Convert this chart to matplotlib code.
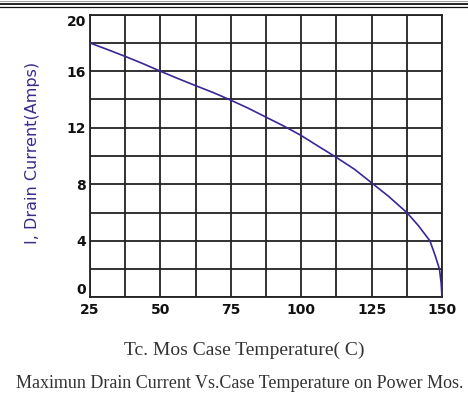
import numpy as np
import matplotlib
matplotlib.use('Agg')
import matplotlib.pyplot as plt
from matplotlib.lines import Line2D

# values
case_temp = [25, 31, 37.5, 44, 50, 56, 62.5, 69, 75, 81, 87.5, 94, 100, 106,
             112.5, 119, 125, 131, 137.5, 141.5, 145.7, 147.5, 149.1, 149.7,
             150]
drain_current = [18, 17.55, 17.05, 16.52, 16, 15.5, 14.98, 14.47, 13.95, 13.4,
                 12.75, 12.1, 11.45, 10.7, 9.9, 9.05, 8.1, 7.15, 6.0, 5.1,
                 4.0, 3.0, 2.0, 1.0, 0]

x_ticks = [25, 50, 75, 100, 125, 150]
y_ticks = [0, 4, 8, 12, 16, 20]

fig = plt.figure(figsize=(4.68, 4.08), dpi=100)
ax = fig.add_axes([90 / 468, 1 - 297.3 / 408, 352 / 468, 282.6 / 408])

# grid every 12.5 deg and every 2 A
for xv in np.arange(25, 150.1, 12.5):
    ax.axvline(xv, color='#222222', lw=1.3, zorder=1)
for yv in np.arange(0, 20.1, 2):
    ax.axhline(yv, color='#222222', lw=1.3, zorder=1)

ax.plot(case_temp, drain_current, color='#3b2596', lw=1.2, zorder=3)

ax.set_xlim(25, 150)
ax.set_ylim(0, 20)
ax.set_xticks(x_ticks)
ax.set_yticks(y_ticks)
ax.set_xticklabels([str(v) for v in x_ticks], fontsize=10, fontweight='bold',
                   family='DejaVu Sans')
ax.set_yticklabels([str(v) for v in y_ticks], fontsize=10, fontweight='bold',
                   family='DejaVu Sans')
ax.tick_params(length=0, colors='#111111')
ax.tick_params(axis='x', pad=4)
ax.tick_params(axis='y', pad=3)
ylabs = ax.get_yticklabels()
ylabs[0].set_va('bottom')
ylabs[-1].set_va('top')
for sp in ax.spines.values():
    sp.set_color('#222222')
    sp.set_linewidth(1.3)

fig.text(33 / 468, 1 - 153 / 408, 'I, Drain Current(Amps)', rotation=90,
         ha='center', va='center', fontsize=11.5, color='#3a2a8a',
         family='DejaVu Sans')

fig.text(244 / 468, 1 - 350 / 408, 'Tc. Mos Case Temperature( C)', ha='center',
         va='center', fontsize=14, family='Liberation Serif', color='#333333')
fig.text(0.513, 1 - 384 / 408,
         'Maximun Drain Current Vs.Case Temperature on Power Mos.',
         ha='center', va='center', fontsize=13, family='Liberation Serif',
         color='#333333')

# double rule across the top
fig.add_artist(Line2D([0, 1], [1 - 0.5 / 408, 1 - 0.5 / 408],
                      color='#888888', lw=0.6))
fig.add_artist(Line2D([0, 1], [1 - 4 / 408, 1 - 4 / 408],
                      color='#111111', lw=1.3))
fig.add_artist(Line2D([0, 1], [1 - 6.8 / 408, 1 - 6.8 / 408],
                      color='#111111', lw=0.9))

fig.savefig('out.png', dpi=100)
